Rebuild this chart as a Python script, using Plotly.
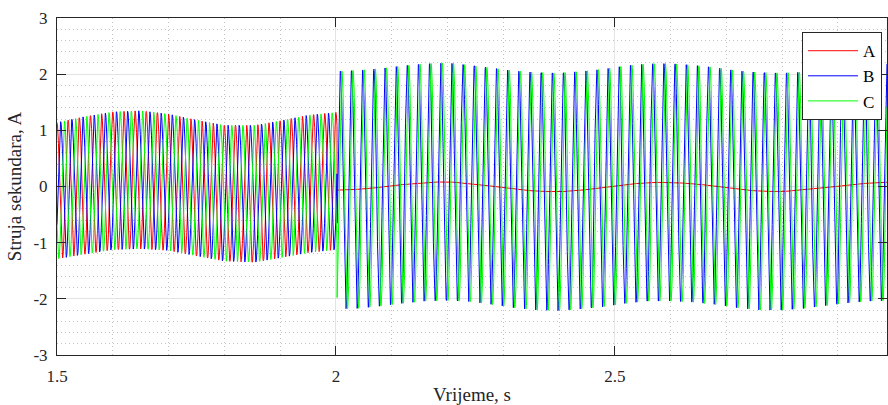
import numpy as np
import plotly.graph_objects as go

# ---------------- data ----------------
FREQ_HZ = 50.0                 # fundamental frequency of the currents
T_START, T_FAULT, T_END = 1.5, 2.002, 2.988
DT = 0.0002

# pre-fault (1.5 - 2.0 s): envelope of the three phase currents
pre_t     = [1.500, 1.547, 1.601, 1.650, 1.700, 1.752, 1.800, 1.854, 1.900, 1.950, 2.000]
pre_upper = [1.14, 1.24, 1.33, 1.35, 1.29, 1.18, 1.09, 1.09, 1.17, 1.27, 1.32]
pre_lower = [-1.29, -1.21, -1.125, -1.11, -1.14, -1.24, -1.33, -1.35, -1.27, -1.18, -1.125]
pre_phase_deg = {"A": 0.0, "B": -120.0, "C": 120.0}   # relative to A peak at 1.5 s

# post-fault (2.0 - 3.0 s): envelope of B and C, A follows the slow mid component
post_t     = [2.00, 2.04, 2.08, 2.12, 2.16, 2.20, 2.24, 2.28, 2.32, 2.36, 2.40, 2.44, 2.48,
              2.52, 2.56, 2.60, 2.64, 2.68, 2.72, 2.76, 2.80, 2.84, 2.88, 2.92, 2.96, 3.00]
post_upper = [2.05, 2.07, 2.10, 2.15, 2.185, 2.20, 2.16, 2.11, 2.06, 2.03, 2.02, 2.05, 2.09,
              2.15, 2.185, 2.19, 2.16, 2.12, 2.06, 2.03, 2.02, 2.04, 2.08, 2.13, 2.17, 2.19]
post_lower = [-2.18, -2.17, -2.13, -2.08, -2.04, -2.03, -2.05, -2.10, -2.16, -2.20, -2.21, -2.18, -2.14,
              -2.08, -2.04, -2.04, -2.06, -2.10, -2.16, -2.20, -2.20, -2.17, -2.12, -2.07, -2.04, -2.03]
post_peak_time = {"B": 2.0081, "C": 2.0108}           # first post-fault peak of B and C

series_names = ["A", "B", "C"]
series_colors = {"A": "#ff0000", "B": "#0000ff", "C": "#00ff00"}

xtick_vals = [1.5, 2.0, 2.5]
xtick_text = ["1.5", "2", "2.5"]
ytick_vals = [-3, -2, -1, 0, 1, 2, 3]
ytick_text = ["-3", "-2", "-1", "0", "1", "2", "3"]

# ---------------- build waveforms ----------------
t = np.arange(T_START, T_END + DT, DT)
w = 2 * np.pi * FREQ_HZ
pre = t < T_FAULT

pre_mid = (np.interp(t, pre_t, pre_upper) + np.interp(t, pre_t, pre_lower)) / 2
pre_amp = (np.interp(t, pre_t, pre_upper) - np.interp(t, pre_t, pre_lower)) / 2
post_mid = (np.interp(t, post_t, post_upper) + np.interp(t, post_t, post_lower)) / 2
post_amp = (np.interp(t, post_t, post_upper) - np.interp(t, post_t, post_lower)) / 2

waves = {}
for name in series_names:
    y_pre = pre_mid + pre_amp * np.cos(w * (t - T_START) + np.deg2rad(pre_phase_deg[name]))
    if name == "A":
        y_post = post_mid
    else:
        y_post = post_mid + post_amp * np.cos(w * (t - post_peak_time[name]))
    waves[name] = np.where(pre, y_pre, y_post)

# ---------------- figure ----------------
FONT = "Liberation Serif"
TXT = "#262626"

fig = go.Figure()
for name in series_names:
    fig.add_trace(go.Scatter(x=t, y=waves[name], mode="lines", name=name,
                             line=dict(color=series_colors[name], width=1)))

axis_common = dict(
    showline=True, linecolor=TXT, linewidth=1, mirror="ticks",
    ticks="inside", ticklen=9, tickcolor=TXT, tickwidth=1,
    showgrid=True, gridcolor="#e3e3e3", gridwidth=1,
    zeroline=False, automargin=False,
    tickfont=dict(family=FONT, size=17, color=TXT),
)
minor_grid = dict(showgrid=True, gridcolor="#c4c4c4", griddash="1px,3px", gridwidth=1, ticks="")

fig.update_xaxes(
    range=[T_START, T_END], tickvals=xtick_vals, ticktext=xtick_text,
    minor=dict(dtick=0.1, tick0=1.5, **minor_grid),
    title=dict(text="Vrijeme, s", font=dict(family=FONT, size=19, color=TXT), standoff=4),
    ticklabelstandoff=6,
    **axis_common,
)
fig.update_yaxes(
    range=[-3, 3], tickvals=ytick_vals, ticktext=ytick_text,
    minor=dict(dtick=0.2, tick0=0, **minor_grid),
    title=dict(text="Struja sekundara, A", font=dict(family=FONT, size=19, color=TXT), standoff=6),
    ticklabelstandoff=5,
    **axis_common,
)

fig.update_layout(
    width=888, height=405,
    margin=dict(l=57, r=1, t=18, b=50, autoexpand=False),
    paper_bgcolor="white", plot_bgcolor="white",
    showlegend=True,
    legend=dict(
        x=0.994, y=0.958, xanchor="right", yanchor="top",
        bgcolor="white", bordercolor=TXT, borderwidth=1,
        font=dict(family=FONT, size=17, color="black"),
        itemwidth=50, tracegroupgap=0,
    ),
    font=dict(family=FONT, color=TXT),
)

fig.write_html(
    "out.html",
    config={"displayModeBar": False},
    post_script="document.body.style.margin='0';document.body.style.overflow='hidden';",
)
